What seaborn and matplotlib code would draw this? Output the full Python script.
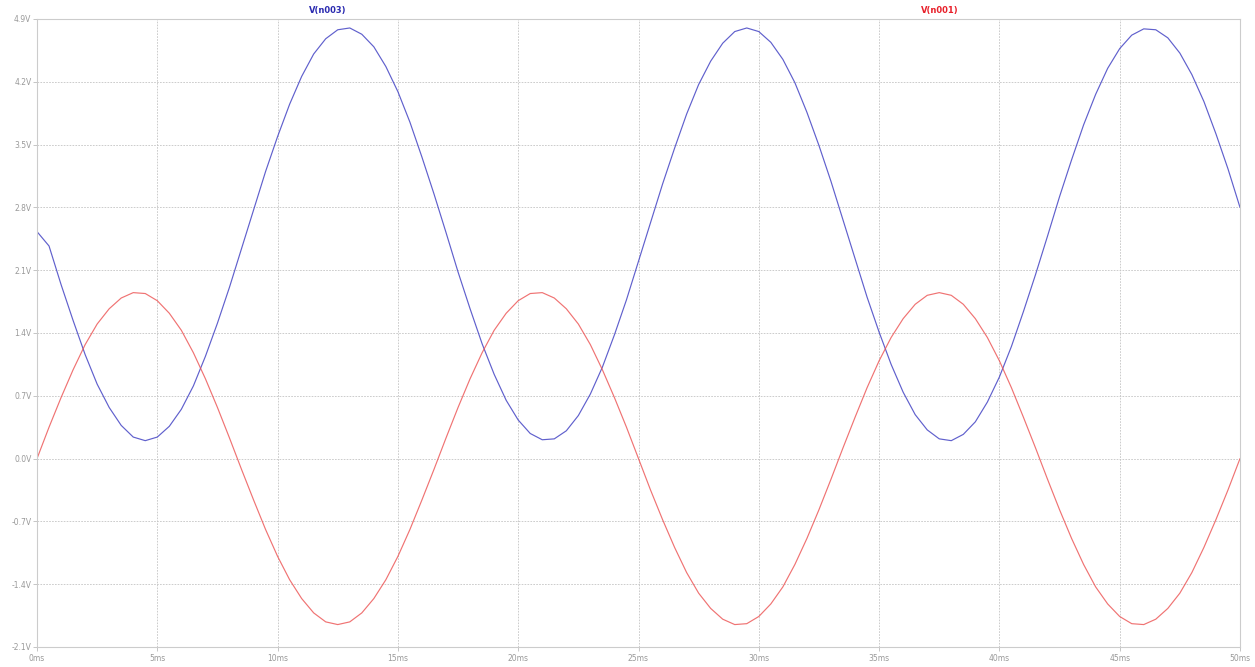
import numpy as np
import pandas as pd
import matplotlib
matplotlib.use("Agg")
import matplotlib.pyplot as plt
import seaborn as sns

# time in ms, 0.5 ms steps
time_ms = [i * 0.5 for i in range(101)]

v_n001 = [0.00, 0.35, 0.68, 0.99, 1.27, 1.50, 1.67, 1.79, 1.85, 1.84,
          1.76, 1.62, 1.43, 1.18, 0.89, 0.57, 0.23, -0.12, -0.46, -0.79,
          -1.09, -1.35, -1.56, -1.72, -1.82, -1.85, -1.82, -1.72, -1.56, -1.35,
          -1.09, -0.79, -0.46, -0.12, 0.23, 0.57, 0.89, 1.18, 1.43, 1.62,
          1.76, 1.84, 1.85, 1.79, 1.67, 1.50, 1.27, 0.99, 0.68, 0.35,
          0.00, -0.35, -0.68, -0.99, -1.27, -1.50, -1.67, -1.79, -1.85, -1.84,
          -1.76, -1.62, -1.43, -1.18, -0.89, -0.57, -0.23, 0.12, 0.46, 0.79,
          1.09, 1.35, 1.56, 1.72, 1.82, 1.85, 1.82, 1.72, 1.56, 1.35,
          1.09, 0.79, 0.46, 0.12, -0.23, -0.57, -0.89, -1.18, -1.43, -1.62,
          -1.76, -1.84, -1.85, -1.79, -1.67, -1.50, -1.27, -0.99, -0.68, -0.35,
          0.00]

v_n003 = [2.53, 2.37, 1.94, 1.54, 1.16, 0.83, 0.57, 0.37, 0.24, 0.20,
          0.24, 0.36, 0.55, 0.81, 1.14, 1.51, 1.91, 2.34, 2.77, 3.20,
          3.59, 3.95, 4.26, 4.51, 4.68, 4.78, 4.80, 4.73, 4.59, 4.37,
          4.09, 3.75, 3.36, 2.95, 2.52, 2.08, 1.67, 1.28, 0.94, 0.65,
          0.43, 0.28, 0.21, 0.22, 0.31, 0.48, 0.72, 1.02, 1.38, 1.77,
          2.20, 2.63, 3.06, 3.46, 3.84, 4.17, 4.43, 4.63, 4.76, 4.80,
          4.76, 4.64, 4.45, 4.19, 3.86, 3.49, 3.09, 2.66, 2.23, 1.80,
          1.41, 1.05, 0.74, 0.49, 0.32, 0.22, 0.20, 0.27, 0.41, 0.63,
          0.91, 1.25, 1.64, 2.05, 2.48, 2.92, 3.33, 3.72, 4.06, 4.35,
          4.57, 4.72, 4.79, 4.78, 4.69, 4.52, 4.28, 3.98, 3.62, 3.23,
          2.80]

x_ticks = [0, 5, 10, 15, 20, 25, 30, 35, 40, 45, 50]
x_tick_labels = ["0ms", "5ms", "10ms", "15ms", "20ms", "25ms", "30ms", "35ms", "40ms", "45ms", "50ms"]
y_ticks = [4.9, 4.2, 3.5, 2.8, 2.1, 1.4, 0.7, 0.0, -0.7, -1.4, -2.1]
y_tick_labels = ["4.9V", "4.2V", "3.5V", "2.8V", "2.1V", "1.4V", "0.7V", "0.0V", "-0.7V", "-1.4V", "-2.1V"]
series_names = ["V(n003)", "V(n001)"]

sns.set_theme(style="white")
plt.rcParams["font.family"] = ["DejaVu Sans"]

fig = plt.figure(figsize=(12.55, 6.67), dpi=100)
ax = fig.add_axes([37 / 1255, 20 / 667, (1240 - 37) / 1255, (647 - 19) / 667])

df = pd.DataFrame({"t": time_ms, "n001": v_n001, "n003": v_n003})
sns.lineplot(data=df, x="t", y="n003", ax=ax, color="#4444c4", linewidth=0.85, alpha=0.85)
sns.lineplot(data=df, x="t", y="n001", ax=ax, color="#ec5050", linewidth=0.85, alpha=0.8)

ax.set_xlim(0, 50)
ax.set_ylim(-2.1, 4.9)
ax.set_xticks(x_ticks)
ax.set_xticklabels(x_tick_labels)
ax.set_yticks(y_ticks)
ax.set_yticklabels(y_tick_labels)
ax.set_xlabel("")
ax.set_ylabel("")

ax.grid(True, color="#c4c4c4", linestyle=(0, (2, 1.5)), linewidth=0.6)
for s in ax.spines.values():
    s.set_color("#cccccc")
    s.set_linewidth(0.8)
ax.tick_params(axis="both", which="both", length=3, width=0.6, color="#bbbbbb",
               labelsize=5.5, labelcolor="#999999", pad=1)
ax.tick_params(axis="x", bottom=True, pad=2)
ax.tick_params(axis="y", left=True)

fig.text(328 / 1255, 1 - 11 / 667, series_names[0], color="#2a2ab0", fontsize=6,
         fontweight="bold", ha="center", va="center")
fig.text(940 / 1255, 1 - 11 / 667, series_names[1], color="#e8202a", fontsize=6,
         fontweight="bold", ha="center", va="center")

fig.savefig("out.png", dpi=100, facecolor="white")
